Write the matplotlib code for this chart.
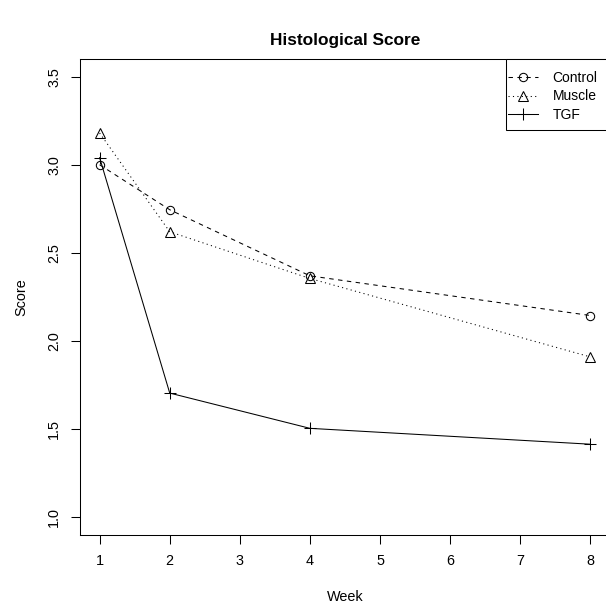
import matplotlib
matplotlib.use('Agg')
import matplotlib.pyplot as plt
from matplotlib.patches import Rectangle

# values
weeks = [1, 2, 4, 8]
control = [3.00, 2.745, 2.37, 2.145]
muscle = [3.18, 2.62, 2.355, 1.91]
tgf = [3.04, 1.705, 1.505, 1.415]

xticks = [1, 2, 3, 4, 5, 6, 7, 8]
yticks = [1.0, 1.5, 2.0, 2.5, 3.0, 3.5]

plt.rcParams['font.family'] = ['Liberation Sans', 'DejaVu Sans']
plt.rcParams['lines.scale_dashes'] = False

W = 606.0
fig = plt.figure(figsize=(6.06, 6.06), dpi=100)
# plot region runs slightly past the right edge, as in the reference
ax = fig.add_axes([80 / W, 71 / W, 530 / W, 476 / W])

lw = 0.75
ax.plot(weeks, control, color='black', lw=lw, linestyle=(0, (3.2, 3.2)),
        marker='o', ms=6, mfc='none', mec='black', mew=lw, label='Control')
ax.plot(weeks, muscle, color='black', lw=lw, linestyle=(0, (0.8, 2.4)),
        marker='^', ms=7, mfc='none', mec='black', mew=lw, label='Muscle')
ax.plot(weeks, tgf, color='black', lw=lw, linestyle='-',
        marker='+', ms=9, mec='black', mew=lw, label='TGF')

ax.set_xlim(0.72, 8.28)
ax.set_ylim(0.9, 3.6)
ax.set_xticks(xticks)
ax.set_yticks(yticks)
ax.set_xticklabels([str(v) for v in xticks])
ax.set_yticklabels(['%.1f' % v for v in yticks], rotation=90, va='center')
ax.tick_params(axis='both', direction='out', length=6.5, width=lw,
               labelsize=10.4, pad=7)
for s in ax.spines.values():
    s.set_linewidth(lw)

ax.set_title('Histological Score', fontsize=12.4, fontweight='bold', pad=10)
ax.set_xlabel('Week', fontsize=10.4, labelpad=16)
ax.set_ylabel('Score', fontsize=10.4, labelpad=13.5)

# legend box (extends past the right edge like the plot region)
box = Rectangle((506 / W, 1 - 130 / W), 120 / W, 71 / W,
                transform=fig.transFigure, facecolor='white',
                edgecolor='black', lw=lw, zorder=5, clip_on=False)
ax.add_patch(box)
leg = ax.legend(loc='upper left', bbox_to_anchor=(508 / W, 1 - 71 / W),
                bbox_transform=fig.transFigure, frameon=False,
                borderaxespad=0, borderpad=0, fontsize=10,
                handlelength=2.15, handletextpad=1.05, labelspacing=0.32,
                numpoints=1)
leg.set_zorder(6)

fig.savefig('out.png', dpi=100)
